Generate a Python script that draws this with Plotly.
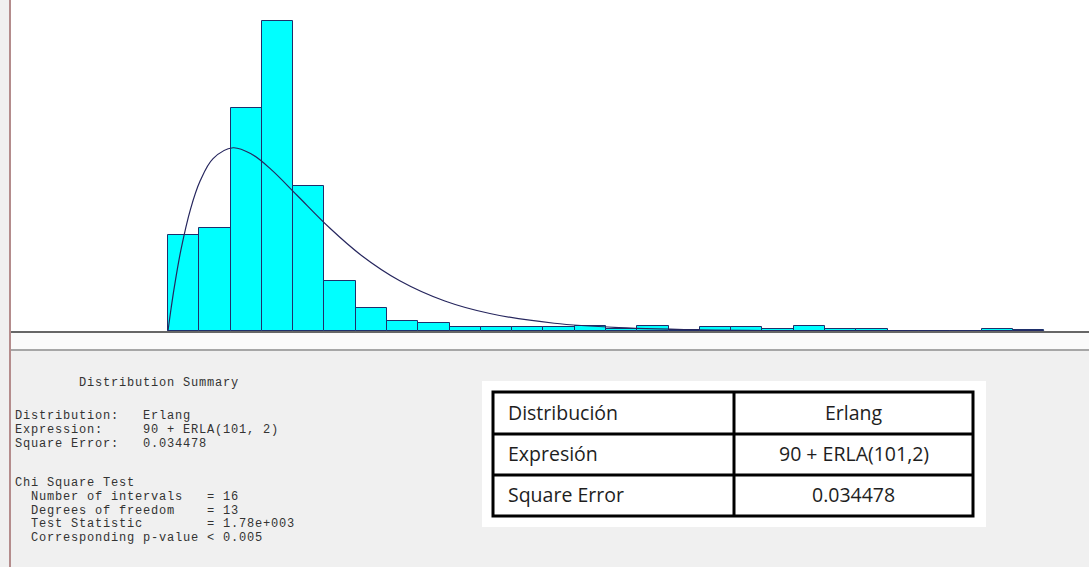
import plotly.graph_objects as go

# ---------------- data ----------------
BIN_START = 90.0          # left edge of first interval
BIN_WIDTH = 48.6          # interval width
# relative frequency of each interval (28 intervals)
rel_freq = [0.0926, 0.0993, 0.2154, 0.2995, 0.1399, 0.0481, 0.0222, 0.0097,
            0.0081, 0.0043, 0.0043, 0.0039, 0.0034, 0.0053, 0.0024, 0.0048,
            0.0010, 0.0034, 0.0034, 0.0024, 0.0048, 0.0024, 0.0024, 0.0000,
            0.0000, 0.0000, 0.0024, 0.0005]

# fitted density curve (scaled to interval width)
curve_x = [90, 95, 100, 110, 125, 140, 160, 191, 220, 250, 290, 340, 390,
           450, 520, 590, 690, 790, 940, 1090, 1290, 1451]
curve_y = [0.0, 0.0227, 0.0432, 0.0782, 0.1179, 0.1452, 0.1667, 0.1772,
           0.1710, 0.1563, 0.1315, 0.1003, 0.0733, 0.0486, 0.0290, 0.0169,
           0.0075, 0.0033, 0.0009, 0.0002, 0.0, 0.0]

summary_title = ["        Distribution Summary"]
summary_fit = [
    "Distribution:   Erlang",
    "Expression:     90 + ERLA(101, 2)",
    "Square Error:   0.034478",
]
summary_chi = [
    "Chi Square Test",
    "  Number of intervals   = 16",
    "  Degrees of freedom    = 13",
    "  Test Statistic        = 1.78e+003",
    "  Corresponding p-value < 0.005",
]
table_left = ["Distribución", "Expresión", "Square Error"]
table_right = ["Erlang", "90 + ERLA(101,2)", "0.034478"]

# ---------------- layout helpers (pixel -> paper) ----------------
W, H = 1089, 567
PL, PR, PT, PB = 11, 1089, 0, 331   # plot area in pixels


def px(x):
    return (x - PL) / (PR - PL)


def py(y):
    return (PB - y) / (PB - PT)


centers = [BIN_START + BIN_WIDTH * (i + 0.5) for i in range(len(rel_freq))]

fig = go.Figure()
fig.add_trace(go.Bar(
    x=centers, y=rel_freq, width=BIN_WIDTH,
    marker=dict(color="#00FFFF", line=dict(color="#1E2F6B", width=1)),
    hoverinfo="skip", showlegend=False,
))
fig.add_trace(go.Scatter(
    x=curve_x, y=curve_y, mode="lines", line_shape="spline",
    line=dict(color="#26265E", width=1.2),
    hoverinfo="skip", showlegend=False,
))

shapes = []
SEP = 350
# light band under the baseline
shapes.append(dict(type="rect", xref="paper", yref="paper",
                   x0=px(PL), x1=px(W), y0=py(SEP), y1=py(332),
                   fillcolor="#FAFAFA", line=dict(width=0), layer="below"))
# separator line
shapes.append(dict(type="line", xref="paper", yref="paper",
                   x0=px(PL), x1=px(W), y0=py(SEP), y1=py(SEP),
                   line=dict(color="#A6A6A6", width=2)))
# left vertical rosy border
shapes.append(dict(type="line", xref="paper", yref="paper",
                   x0=px(10), x1=px(10), y0=py(0), y1=py(H),
                   line=dict(color="#B48C8C", width=2)))
# table white box
shapes.append(dict(type="rect", xref="paper", yref="paper",
                   x0=px(482), x1=px(986), y0=py(527), y1=py(381),
                   fillcolor="#FFFFFF", line=dict(width=0)))
# table borders
TL, TR, TT, TB = 493, 973, 392, 516
shapes.append(dict(type="rect", xref="paper", yref="paper",
                   x0=px(TL), x1=px(TR), y0=py(TB), y1=py(TT),
                   line=dict(color="#000000", width=3)))
shapes.append(dict(type="line", xref="paper", yref="paper",
                   x0=px(734), x1=px(734), y0=py(TB), y1=py(TT),
                   line=dict(color="#000000", width=3)))
for yy in (434, 475):
    shapes.append(dict(type="line", xref="paper", yref="paper",
                       x0=px(TL), x1=px(TR), y0=py(yy), y1=py(yy),
                       line=dict(color="#000000", width=3)))

annotations = []
MONO = "Liberation Mono, Courier New, monospace"
GLYPH = 12          # glyph size of the summary text
TRACK = 0.8         # extra letter spacing (px) to match the wide Courier pitch
LINE = 13.8         # line pitch in px


def mono_block(lines, first_center):
    body = "<br>".join(
        '<span style="font-size:%gpx;letter-spacing:%gpx">' % (GLYPH, TRACK) +
        ln.replace(" ", "\u00a0") + "</span>" for ln in lines)
    n = len(lines)
    mid = first_center + (n - 1) * LINE / 2.0
    return dict(text=body, xref="paper", yref="paper", x=px(13), y=py(mid),
                xanchor="left", yanchor="middle", align="left", showarrow=False,
                font=dict(family=MONO, size=LINE / 1.3, color="#333333"))


annotations.append(mono_block(summary_title, 383))
annotations.append(mono_block(summary_fit, 416))
annotations.append(mono_block(summary_chi, 483))

row_y = [412, 453, 494]
TFONT = dict(family="Open Sans, Noto Sans, sans-serif", size=19.5, color="#1E1E1E")
for l, r, yy in zip(table_left, table_right, row_y):
    annotations.append(dict(
        text=l, xref="paper", yref="paper", x=px(506), y=py(yy),
        xanchor="left", yanchor="middle", showarrow=False, font=TFONT))
    annotations.append(dict(
        text=r, xref="paper", yref="paper", x=px(853.5), y=py(yy),
        xanchor="center", yanchor="middle", showarrow=False, font=TFONT))

x_lo = BIN_START - (168 - PL) / 0.6438
x_hi = BIN_START + (PR - 168) / 0.6438

fig.update_layout(
    width=W, height=H,
    margin=dict(l=PL, r=W - PR, t=PT, b=H - PB, pad=0),
    paper_bgcolor="#F0F0F0", plot_bgcolor="#FFFFFF",
    bargap=0, showlegend=False,
    xaxis=dict(range=[x_lo, x_hi], showgrid=False, zeroline=False,
               showticklabels=False, ticks="", showline=True,
               linecolor="#666666", linewidth=2, fixedrange=True),
    yaxis=dict(range=[0, 0.3201], showgrid=False, zeroline=False,
               showticklabels=False, ticks="", showline=False, fixedrange=True),
    shapes=shapes, annotations=annotations,
)

fig.write_html("out.html",
               config={"displayModeBar": False},
               post_script="document.body.style.margin='0px';"
                           "document.body.style.overflow='hidden';")
